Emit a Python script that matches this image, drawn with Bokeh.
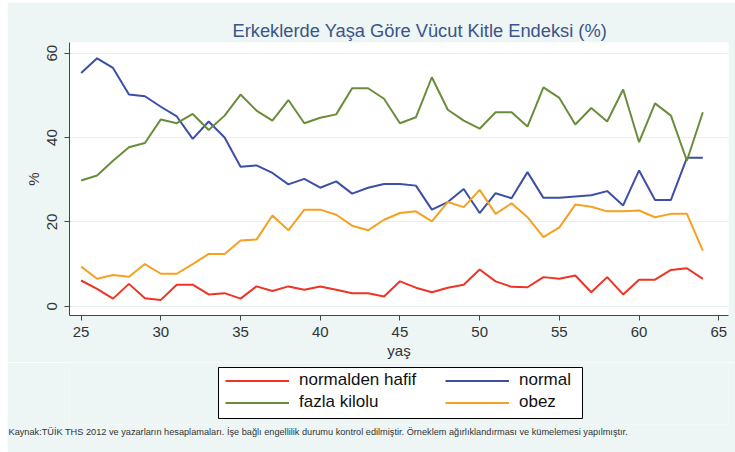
from bokeh.plotting import figure
from bokeh.layouts import column
from bokeh.models import Legend, LegendItem, FixedTicker, Range1d, Title, BoxAnnotation
from bokeh.embed import file_html
from bokeh.resources import INLINE

ages = list(range(25, 65))
normalden_hafif = [6.1, 4.1, 1.8, 5.3, 1.9, 1.5, 5.1, 5.1, 2.8, 3.1,
                   1.8, 4.7, 3.6, 4.7, 3.9, 4.7, 3.9, 3.1, 3.1, 2.3,
                   5.9, 4.4, 3.3, 4.4, 5.1, 8.7, 5.9, 4.6, 4.5, 6.9,
                   6.5, 7.3, 3.3, 6.9, 2.8, 6.3, 6.3, 8.6, 9.0, 6.5]
normal = [55.3, 58.8, 56.5, 50.2, 49.8, 47.3, 45.0, 39.7, 43.8, 40.0,
          33.1, 33.4, 31.6, 28.9, 30.2, 28.1, 29.6, 26.7, 28.1, 29.0,
          29.0, 28.6, 22.9, 24.7, 27.8, 22.1, 26.8, 25.6, 31.8, 25.7,
          25.7, 26.0, 26.3, 27.3, 23.9, 32.2, 25.2, 25.2, 35.2, 35.2]
fazla_kilolu = [29.8, 31.0, 34.5, 37.7, 38.7, 44.3, 43.4, 45.6, 41.8, 45.2,
                50.2, 46.4, 44.0, 48.9, 43.4, 44.7, 45.5, 51.7, 51.7, 49.2,
                43.4, 44.8, 54.3, 46.6, 44.0, 42.1, 46.0, 46.0, 42.6, 51.9,
                49.4, 43.1, 47.0, 43.8, 51.4, 38.9, 48.1, 45.2, 34.5, 46.0]
obez = [9.4, 6.5, 7.4, 7.0, 10.0, 7.7, 7.7, 10.0, 12.4, 12.4,
        15.6, 15.8, 21.5, 18.0, 22.9, 22.9, 21.7, 19.1, 18.0, 20.5,
        22.1, 22.5, 20.1, 24.7, 23.5, 27.6, 21.9, 24.4, 21.1, 16.4,
        18.7, 24.1, 23.6, 22.5, 22.5, 22.7, 21.1, 21.9, 21.9, 13.2]

series_names = ["normalden hafif", "normal", "fazla kilolu", "obez"]
series_values = [normalden_hafif, normal, fazla_kilolu, obez]
series_colors = ["#ee3424", "#3c4fa6", "#6a8d3c", "#f5a122"]

x_ticks = [25, 30, 35, 40, 45, 50, 55, 60, 65]
y_ticks = [0, 20, 40, 60]

title_text = "Erkeklerde Yaşa Göre Vücut Kitle Endeksi (%)"
x_label = "yaş"
y_label = "%"
note_text = ("Kaynak:TÜİK THS 2012 ve yazarların hesaplamaları. İşe bağlı engellilik durumu "
             "kontrol edilmiştir. Örneklem ağırlıklandırması ve kümelemesi yapılmıştır.")

FONT = "Liberation Sans"
BG = "#edf5f5"

p = figure(width=728, height=360, output_backend="svg", toolbar_location=None,
           x_range=Range1d(24.27, 65.61), y_range=Range1d(-2.2, 62.54),
           min_border_left=62, min_border_right=7, min_border_top=40, min_border_bottom=47,
           background_fill_color="white", border_fill_color=BG,
           outline_line_color=None)

p.title.text = title_text
p.title.align = "left"
p.title.offset = 163
p.title.text_font = FONT
p.title.text_font_size = "18.3px"
p.title.text_font_style = "normal"
p.title.text_color = "#3b5487"
p.title.standoff = 4

for ax in (p.xaxis[0], p.yaxis[0]):
    ax.major_tick_in = 0
    ax.major_tick_out = 5
    ax.minor_tick_line_color = None
    ax.axis_line_color = "#444444"
    ax.major_tick_line_color = "#444444"
    ax.major_label_text_font = FONT
    ax.major_label_text_font_size = "15px"
    ax.major_label_text_color = "#333333"
    ax.axis_label_text_font = FONT
    ax.axis_label_text_font_size = "15px"
    ax.axis_label_text_font_style = "normal"
    ax.axis_label_text_color = "#333333"

p.xaxis.ticker = FixedTicker(ticks=x_ticks)
p.yaxis.ticker = FixedTicker(ticks=y_ticks)
p.xaxis.axis_label = x_label
p.yaxis.axis_label = y_label
p.xaxis.major_label_standoff = 6
p.xaxis.axis_label_standoff = 2
p.yaxis.major_label_orientation = "vertical"
p.yaxis.major_label_standoff = 7
p.yaxis.axis_label_standoff = 3

p.xgrid.grid_line_color = None
p.ygrid.grid_line_color = "#e6f0f0"
p.ygrid.grid_line_width = 1

for vals, col in zip(series_values, series_colors):
    p.line(ages, vals, line_color=col, line_width=2)

# second strip: legend and source note; its frame is measured in page pixels
p2 = figure(width=728, height=90, output_backend="svg", toolbar_location=None,
            x_range=Range1d(69, 728), y_range=Range1d(424, 362),
            x_axis_location=None, y_axis_location=None,
            min_border_left=62, min_border_right=7, min_border_top=0, min_border_bottom=28,
            background_fill_color=BG, border_fill_color=BG, outline_line_color=None)
p2.xgrid.grid_line_color = None
p2.ygrid.grid_line_color = None

box = BoxAnnotation(left=218, right=582, top=367, bottom=418,
                    fill_color="white", fill_alpha=1.0,
                    line_color="black", line_width=1, line_alpha=1.0)
p2.add_layout(box)

# legend keys: same series, lying outside the strip's visible range
keys = [p2.line(ages, vals, line_color=col, line_width=2)
        for vals, col in zip(series_values, series_colors)]

common = dict(orientation="vertical", glyph_width=64, glyph_height=19, label_standoff=10,
              spacing=2, padding=0, margin=0, label_text_font=FONT,
              label_text_font_size="17px", label_text_color="#111111", label_height=19,
              border_line_color=None, background_fill_alpha=0.0)

legend_a = Legend(items=[LegendItem(label=series_names[0], renderers=[keys[0]]),
                         LegendItem(label=series_names[2], renderers=[keys[2]])],
                  location=(156, 12), **common)
legend_b = Legend(items=[LegendItem(label=series_names[1], renderers=[keys[1]]),
                         LegendItem(label=series_names[3], renderers=[keys[3]])],
                  location=(376, 12), **common)
p2.add_layout(legend_a)
p2.add_layout(legend_b)

note = Title(text=note_text, align="left", offset=-61, standoff=0,
             text_font=FONT, text_font_size="9.2px", text_font_style="normal",
             text_color="#333333")
p2.add_layout(note, "below")

layout = column(p, p2, spacing=0, margin=(2, 0, 0, 7), background="white")

open("out.html", "w").write(file_html(layout, INLINE))
